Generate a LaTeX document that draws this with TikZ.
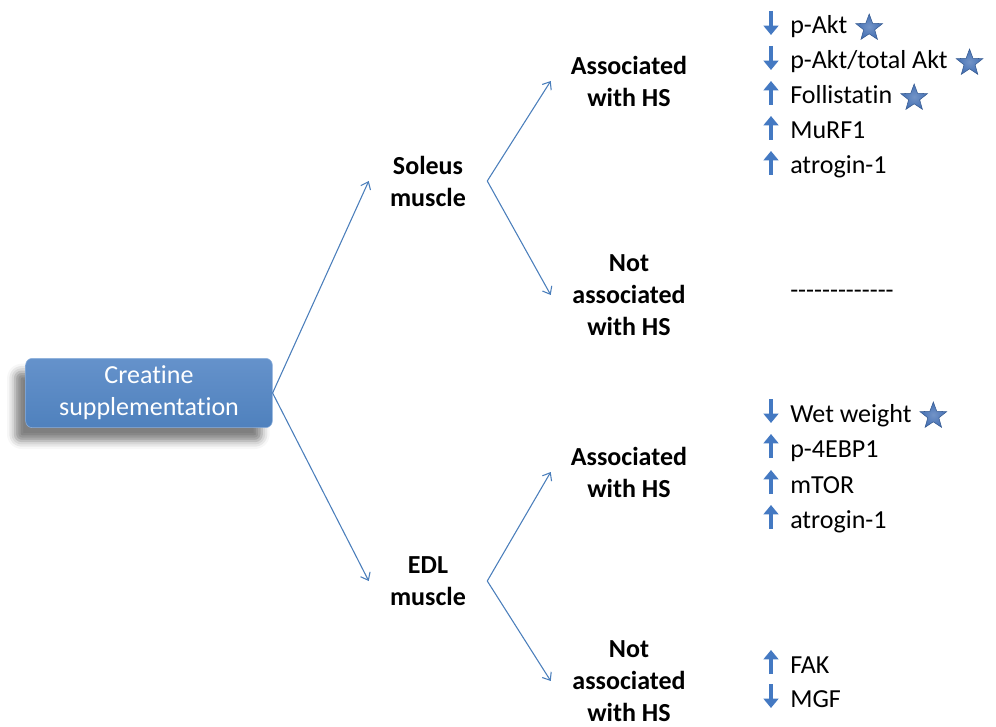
\documentclass[tikz,border=0pt]{standalone}
\usepackage{fontspec}
\setmainfont{Carlito}[Ligatures=NoCommon]
\usetikzlibrary{positioning, calc, arrows.meta, shapes.geometric, shadows.blur}
\definecolor{boxblue}{HTML}{4F81BD}
\definecolor{boxtop}{HTML}{6592CB}
\definecolor{boxedge}{HTML}{8DB0DC}
\definecolor{lineblue}{HTML}{4A7EBB}
\definecolor{markblue}{HTML}{4479C2}
\definecolor{starblue}{HTML}{4470B4}
\tikzset{
	startbox/.style={
			rectangle,
			rounded corners=5pt,
			draw=boxedge,
			top color=boxtop,
			bottom color=boxblue,
			text=white,
			align=center,
			font=\fontsize{19.5}{24}\selectfont,
			minimum width=185pt,
			minimum height=52pt,
			inner sep=0pt,
			blur shadow={shadow xshift=-8pt, shadow yshift=-10pt, shadow blur radius=6pt, shadow opacity=50}
		},
	musclenode/.style={
			align=center,
			font=\fontsize{19.5}{24}\selectfont\bfseries,
			minimum width=88.5pt,
			inner sep=0pt
		},
	hsnode/.style={
			musclenode,
			minimum width=117pt
		},
	itemnode/.style={
			anchor=base west,
			font=\fontsize{19.5}{24}\selectfont,
			text height=13pt,
			text depth=4pt,
			inner sep=0pt
		},
	link/.style={
			draw=lineblue,
			line width=0.8pt,
			-{Straight Barb[length=5pt, width=8pt]}
		},
	upmark/.style={
			draw=markblue,
			line width=3.6pt,
			-{Triangle[length=7pt, width=11pt]}
		},
	starmark/.style={
			star,
			star points=5,
			star point ratio=2.4,
			minimum size=21pt,
			inner sep=0pt,
			draw=starblue!80!black,
			inner color=starblue!75!white,
			outer color=starblue
		}
}

\begin{document}
\begin{tikzpicture}[x=0.75pt, y=-0.75pt]
	\useasboundingbox (0,0) rectangle (996,727);

	\node[startbox] (creatine) at (149,393) {Creatine\\supplementation};

	\node[musclenode] (soleus) at (428,181) {Soleus\\muscle};
	\node[musclenode] (edl) at (428,581) {EDL\\muscle};

	\node[hsnode] (solhs) at (629,81) {Associated\\with HS};
	\node[hsnode] (solnohs) at (629,295) {Not\\associated\\with HS};
	\node[hsnode] (edlhs) at (629,472) {Associated\\with HS};
	\node[hsnode] (edlnohs) at (629,681) {Not\\associated\\with HS};

	\draw[link] (creatine.east) -- (soleus.west);
	\draw[link] (creatine.east) -- (edl.west);
	\draw[link] (soleus.east) -- (solhs.west);
	\draw[link] (soleus.east) -- (solnohs.west);
	\draw[link] (edl.east) -- (edlhs.west);
	\draw[link] (edl.east) -- (edlnohs.west);

	% soleus, associated with HS
	\node[itemnode] (pakt) at (790,34) {p-Akt};
	\node[itemnode] (ratio) at (790,69) {p-Akt/total Akt};
	\node[itemnode] (follis) at (790,104) {Follistatin};
	\node[itemnode] (murf) at (790,139) {MuRF1};
	\node[itemnode] (atro) at (790,174) {atrogin-1};
	\draw[upmark] ($(pakt.base west)+(-19,-23)$) -- ++(0,24);
	\draw[upmark] ($(ratio.base west)+(-19,-23)$) -- ++(0,24);
	\draw[upmark] ($(follis.base west)+(-19,1)$) -- ++(0,-24);
	\draw[upmark] ($(murf.base west)+(-19,1)$) -- ++(0,-24);
	\draw[upmark] ($(atro.base west)+(-19,1)$) -- ++(0,-24);
	\node[starmark, right=10pt of pakt] (paktstar) {};
	\node[starmark, right=10pt of ratio] (ratiostar) {};
	\node[starmark, right=10pt of follis] (follisstar) {};

	% soleus, not associated with HS
	\node[itemnode] (none) at (790,299) {-\kern0pt-\kern0pt-\kern0pt-\kern0pt-\kern0pt-\kern0pt-\kern0pt-\kern0pt-\kern0pt-\kern0pt-\kern0pt-\kern0pt-};

	% EDL, associated with HS
	\node[itemnode] (wet) at (790,422) {Wet weight};
	\node[itemnode] (ebp) at (790,457) {p-4EBP1};
	\node[itemnode] (mtor) at (790,493) {mTOR};
	\node[itemnode] (atroedl) at (790,528) {atrogin-1};
	\draw[upmark] ($(wet.base west)+(-19,-23)$) -- ++(0,24);
	\draw[upmark] ($(ebp.base west)+(-19,1)$) -- ++(0,-24);
	\draw[upmark] ($(mtor.base west)+(-19,1)$) -- ++(0,-24);
	\draw[upmark] ($(atroedl.base west)+(-19,1)$) -- ++(0,-24);
	\node[starmark, right=10pt of wet] (wetstar) {};

	% EDL, not associated with HS
	\node[itemnode] (fak) at (790,673) {FAK};
	\node[itemnode] (mgf) at (790,707) {MGF};
	\draw[upmark] ($(fak.base west)+(-19,1)$) -- ++(0,-24);
	\draw[upmark] ($(mgf.base west)+(-19,-23)$) -- ++(0,24);
\end{tikzpicture}
\end{document}
